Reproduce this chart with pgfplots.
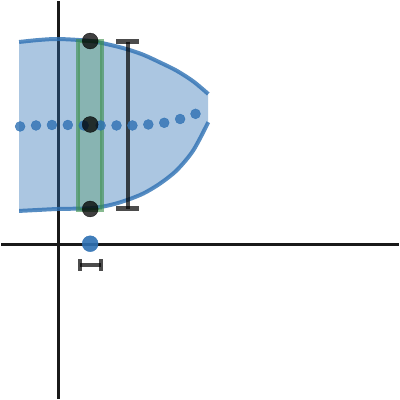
\documentclass[border=0pt]{standalone}
\usepackage{pgfplots}
\pgfplotsset{compat=1.18}
\usepgfplotslibrary{fillbetween}
\definecolor{dblue}{HTML}{2D70B3}
\definecolor{dgreen}{HTML}{388C46}
\begin{document}
\begin{tikzpicture}
\begin{axis}[
  width=400pt, height=400pt, scale only axis,
  xmin=-57.5, xmax=342.5, ymin=-155, ymax=245,
  axis lines=middle, ticks=none,
  axis line style={-, line width=2.5pt, black!90},
  clip=true,
]
\path[use as bounding box] (rel axis cs:0,0) rectangle (rel axis cs:1,1);
% upper and lower curves with band
\addplot[name path=top, smooth, dblue, opacity=0.8, line width=4pt] coordinates {
  (-39.5,204) (-20,206) (0.5,207) (32.5,205) (52.5,201) (69.2,196.7) (85.8,191)
  (102.5,183.3) (119.2,175) (135.8,164.3) (150.8,151.7)};
\addplot[name path=bot, smooth, dblue, opacity=0.8, line width=4pt] coordinates {
  (-39.5,34) (-20,35) (0.5,36) (32.5,36.7) (52.5,40) (69.2,45) (85.8,51.7)
  (102.5,61.7) (119.2,75) (135.8,95) (150.8,123.3)};
\addplot[dblue, fill opacity=0.4, draw=none] fill between[of=top and bot];
% dotted middle
\addplot[only marks, mark=*, mark size=5pt, dblue, opacity=0.8, draw=none] coordinates {
  (-38.5,119) (-22.5,120) (-6.5,120.5) (9.5,120.5) (25.5,120) (42.5,120)
  (58.5,120) (74.5,120) (90.5,121) (106.5,122.7) (122.5,126.5) (138,131.7)};
% green box
\addplot[dgreen, line width=4pt, draw opacity=0.6, fill=dgreen, fill opacity=0.3] coordinates {
  (20.2,35) (43.5,35) (43.5,205) (20.2,205) (20.2,35)} -- cycle;
% black points
\addplot[only marks, mark=*, mark size=8pt, black, opacity=0.75] coordinates {
  (32,205) (32,121) (32,36)};
% error bar
\addplot[black, opacity=0.7, line width=4pt] coordinates {(69.8,204.3) (69.8,36)};
\addplot[black, opacity=0.7, line width=5pt] coordinates {(58.2,204.3) (81.5,204.3)};
\addplot[black, opacity=0.7, line width=5pt] coordinates {(58.2,36) (81.5,36)};
% blue point on x axis
\addplot[only marks, mark=*, mark size=8pt, dblue, opacity=0.9] coordinates {(32,1)};
% small horizontal bar
\addplot[black, opacity=0.7, line width=4pt] coordinates {(21.5,-20.7) (42.5,-20.7)};
\addplot[black, opacity=0.7, line width=4pt] coordinates {(21.5,-14.7) (21.5,-26.7)};
\addplot[black, opacity=0.7, line width=4pt] coordinates {(42.5,-14.7) (42.5,-26.7)};
\end{axis}
\end{tikzpicture}
\end{document}
